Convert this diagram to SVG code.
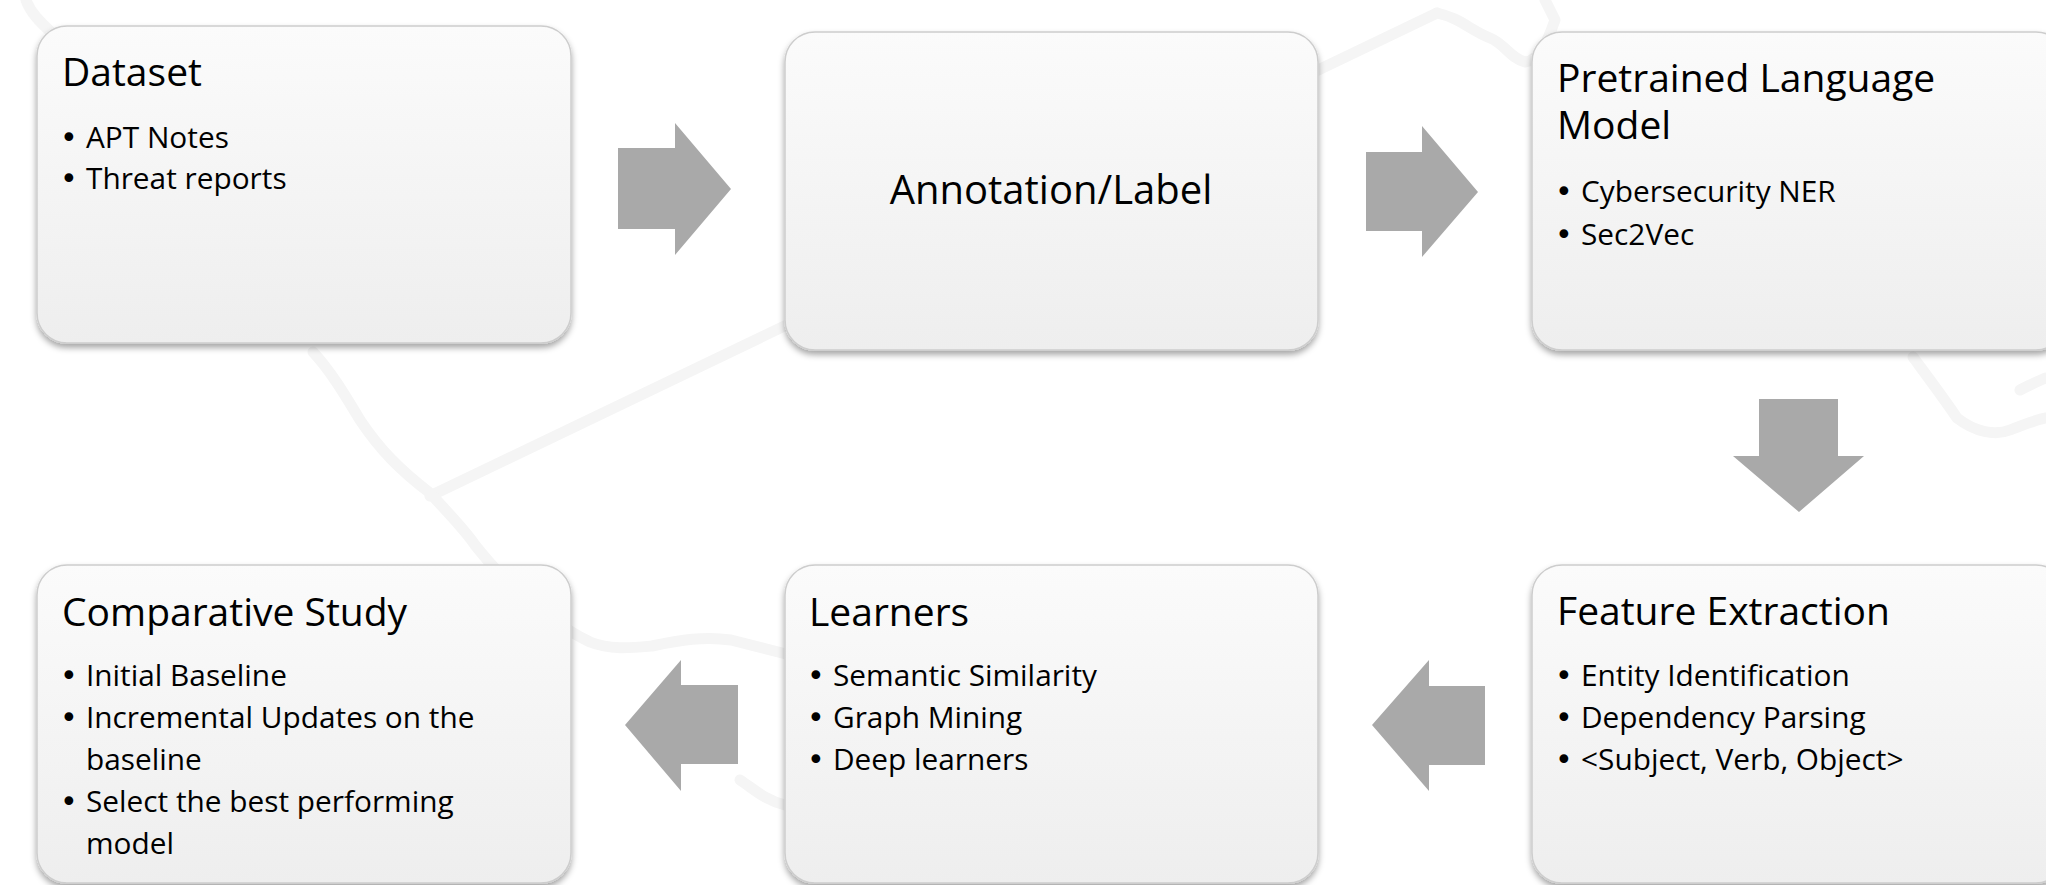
<svg xmlns="http://www.w3.org/2000/svg" width="2046" height="885" viewBox="0 0 2046 885">
<style>
.box{fill:url(#g);stroke:#cdcdcd;stroke-width:1.5;filter:url(#sh)}
.t{font-family:"Open Sans","Noto Sans",sans-serif;font-size:39px;fill:#000}
.b{font-family:"Open Sans","Noto Sans",sans-serif;font-size:29.8px;fill:#000}
.d{font-family:"DejaVu Sans",sans-serif;font-size:30px;fill:#000}
.arr{fill:#a9a9a9}
.bg{fill:none;stroke:#f5f5f5;stroke-width:11;stroke-linecap:round;stroke-linejoin:round}
</style>
<defs>
<linearGradient id="g" x1="0" y1="0" x2="0" y2="1">
<stop offset="0" stop-color="#fbfbfb"/>
<stop offset="1" stop-color="#eeeeee"/>
</linearGradient>
<filter id="sh" x="-5%" y="-5%" width="110%" height="115%">
<feDropShadow dx="0" dy="4" stdDeviation="3" flood-color="#000" flood-opacity="0.35"/>
</filter>
</defs>
<rect width="2046" height="885" fill="#fff"/>
<g id="background">
<path class="bg" d="M430,496 L1437,13"/>
<path class="bg" d="M1437,13 C1460,18 1470,30 1490,38 C1505,44 1510,58 1525,62 C1540,60 1548,40 1555,20 L1545,0"/>
<path class="bg" d="M26,0 C30,12 40,22 52,33"/>
<path class="bg" d="M313,352 C330,370 345,395 360,420 C380,450 400,470 430,493 C450,515 465,530 475,545 C495,570 505,580 522,590 C545,615 565,630 590,642 C610,650 630,648 652,646 C680,640 705,636 731,640 C750,645 770,650 790,655"/>
<path class="bg" d="M740,780 C755,790 765,800 785,805"/>
<path class="bg" d="M1913,357 C1930,380 1945,400 1957,418 C1975,432 1995,436 2010,430 C2025,424 2035,420 2046,418"/>
<path class="bg" d="M2020,390 C2030,385 2040,380 2046,378"/>
</g>
<g id="connectors">
<polygon class="arr" points="618,148 675,148 675,123 731,189 675,255 675,229 618,229"/>
<polygon class="arr" points="1366,152 1422,152 1422,126 1478,192 1422,257 1422,231 1366,231"/>
<polygon class="arr" points="1759,399 1838,399 1838,456 1864,456 1799,512 1733,456 1759,456"/>
<polygon class="arr" points="1485,686 1429,686 1429,660 1372,725 1429,791 1429,765 1485,765"/>
<polygon class="arr" points="738,685 681,685 681,660 625,725 681,791 681,764 738,764"/>
</g>
<g id="dataset">
<rect class="box" x="37" y="26" width="534" height="317" rx="30"/>
<text class="t" x="62" y="86">Dataset</text>
<text class="d" x="60" y="148">•</text><text class="b" x="86" y="148">APT Notes</text>
<text class="d" x="60" y="189">•</text><text class="b" x="86" y="189">Threat reports</text>
</g>
<g id="annotation">
<rect class="box" x="785" y="32" width="533" height="318" rx="30"/>
<text class="t" x="1051" y="204" text-anchor="middle" style="font-size:40px">Annotation/Label</text>
</g>
<g id="pretrained">
<rect class="box" x="1532" y="32" width="534" height="318" rx="30"/>
<text class="t" x="1557" y="92">Pretrained Language</text>
<text class="t" x="1557" y="139">Model</text>
<text class="d" x="1555" y="202">•</text><text class="b" x="1581" y="202">Cybersecurity NER</text>
<text class="d" x="1555" y="245">•</text><text class="b" x="1581" y="245">Sec2Vec</text>
</g>
<g id="feature">
<rect class="box" x="1532" y="565" width="534" height="318" rx="30"/>
<text class="t" x="1557" y="625">Feature Extraction</text>
<text class="d" x="1555" y="686">•</text><text class="b" x="1581" y="686">Entity Identification</text>
<text class="d" x="1555" y="728">•</text><text class="b" x="1581" y="728">Dependency Parsing</text>
<text class="d" x="1555" y="770">•</text><text class="b" x="1581" y="770">&lt;Subject, Verb, Object&gt;</text>
</g>
<g id="learners">
<rect class="box" x="785" y="565" width="533" height="318" rx="30"/>
<text class="t" x="809" y="626">Learners</text>
<text class="d" x="807" y="686">•</text><text class="b" x="833" y="686">Semantic Similarity</text>
<text class="d" x="807" y="728">•</text><text class="b" x="833" y="728">Graph Mining</text>
<text class="d" x="807" y="770">•</text><text class="b" x="833" y="770">Deep learners</text>
</g>
<g id="comparative">
<rect class="box" x="37" y="565" width="534" height="318" rx="30"/>
<text class="t" x="62" y="626">Comparative Study</text>
<text class="d" x="60" y="686">•</text><text class="b" x="86" y="686">Initial Baseline</text>
<text class="d" x="60" y="728">•</text><text class="b" x="86" y="728">Incremental Updates on the</text>
<text class="b" x="86" y="770">baseline</text>
<text class="d" x="60" y="812">•</text><text class="b" x="86" y="812">Select the best performing</text>
<text class="b" x="86" y="854">model</text>
</g>
</svg>
